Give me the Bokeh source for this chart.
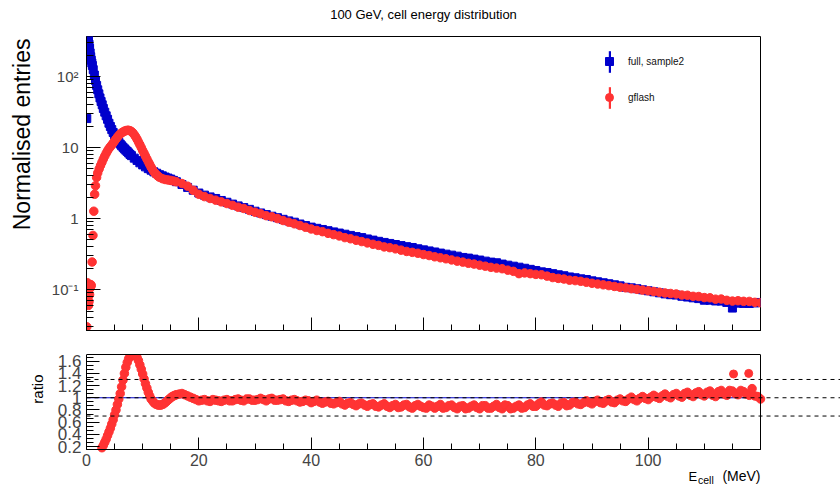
from bokeh.plotting import figure
from bokeh.models import (FixedTicker, SingleIntervalTicker, Label, Legend, LegendItem,
                          Range1d, LinearAxis, CustomJSTickFormatter)
from bokeh.layouts import column, row
from bokeh.embed import file_html
from bokeh.resources import INLINE

FONT = "Liberation Sans"
BLUE = "#0000cc"
RED = "#ff3333"

TITLE = "100 GeV, cell energy distribution"
Y_LABEL = "Normalised entries"
R_LABEL = "ratio"
NAME_FULL = "full, sample2"
NAME_GFLASH = "gflash"

# ---------------- top panel data (E_cell in MeV, normalised entries) ----------------
x_full_lo = [0.05, 0.15, 0.25, 0.35, 0.45, 0.55, 0.65, 0.75, 0.85, 0.95, 1.05, 1.2, 1.4, 1.6, 1.8,
             2.0, 2.2, 2.4, 2.6, 2.8, 3.0, 3.25, 3.5, 3.75, 4.0, 4.25, 4.5, 4.75, 5.0, 5.25, 5.5,
             5.75, 6.0, 6.25, 6.5, 6.75, 7.0, 7.25, 7.5, 7.75, 8.0, 8.5, 9.0, 9.5, 10.0, 10.5,
             11.0, 11.5, 12.0, 12.5, 13.0, 13.5, 14.0, 14.5, 15.0, 15.5]
full_lo = [25.6, 185, 300, 330, 285, 250, 215, 190, 170, 155, 143, 125, 105, 88, 75,
           65, 57, 50, 44.5, 40, 35.5, 31.5, 28, 25, 22, 19.8, 17.9, 16.3, 14.9, 13.7, 12.7,
           11.9, 11.2, 10.6, 10.1, 9.6, 9.2, 8.8, 8.4, 8.0, 7.7, 7.1, 6.6, 6.1, 5.7, 5.35,
           5.05, 4.8, 4.55, 4.35, 4.15, 4.0, 3.85, 3.72, 3.6, 3.45]

x_gflash_lo = [0.05, 0.15, 0.25, 0.35, 0.45, 0.55, 0.65, 0.75, 0.85, 1.0, 1.15, 1.3, 1.45, 1.6, 1.8,
               2.0, 2.25, 2.5, 2.75, 3.0, 3.25, 3.5, 3.75, 4.0, 4.25, 4.5, 4.75, 5.0, 5.25, 5.5,
               5.75, 6.0, 6.25, 6.5, 6.75, 7.0, 7.25, 7.5, 7.75, 8.0, 8.25, 8.5, 8.75, 9.0, 9.25,
               9.5, 9.75, 10.0, 10.25, 10.5, 10.75, 11.0, 11.25, 11.5, 11.75, 12.0, 12.25, 12.5,
               12.75, 13.0, 13.5, 14.0, 14.5, 15.0, 15.5]
gflash_lo = [0.030, 0.125, 0.078, 0.060, 0.068, 0.085, 0.105, 0.118, 0.114, 0.245, 0.58, 1.27, 2.2, 2.9, 3.8,
             4.4, 5.0, 5.6, 6.2, 6.9, 7.6, 8.3, 9.0, 9.7, 10.3, 10.9, 11.6, 12.4, 13.2, 14.0,
             14.8, 15.5, 16.1, 16.6, 17.0, 17.3, 17.5, 17.5, 17.3, 16.8, 16.1, 15.2, 14.2, 13.1, 12.0,
             11.0, 10.0, 9.1, 8.3, 7.6, 6.9, 6.3, 5.8, 5.3, 4.9, 4.55, 4.3, 4.1,
             3.95, 3.82, 3.65, 3.55, 3.5, 3.45, 3.38]

x_hi = list(range(16, 121))
full_hi = [3.31, 3.02, 2.75, 2.51, 2.29, 2.14, 2.02, 1.92, 1.80, 1.70,
           1.60, 1.51, 1.43, 1.35, 1.27, 1.20, 1.14, 1.08, 1.03, 0.977,
           0.929, 0.89, 0.839, 0.798, 0.759, 0.730, 0.703, 0.676, 0.650, 0.626,
           0.603, 0.580, 0.558, 0.54, 0.517, 0.498, 0.479, 0.462, 0.447, 0.432,
           0.417, 0.403, 0.392, 0.376, 0.363, 0.351, 0.339, 0.327, 0.316, 0.306,
           0.296, 0.284, 0.278, 0.269, 0.261, 0.252, 0.244, 0.239, 0.229, 0.221,
           0.214, 0.207, 0.200, 0.193, 0.186, 0.178, 0.174, 0.168, 0.162, 0.157,
           0.151, 0.147, 0.142, 0.139, 0.133, 0.129, 0.125, 0.121, 0.117, 0.113,
           0.108, 0.106, 0.103, 0.0995, 0.0964, 0.0933, 0.0902, 0.0871, 0.0849, 0.084,
           0.0807, 0.0787, 0.0767, 0.0748, 0.071, 0.0711, 0.0693, 0.069, 0.0661, 0.055,
           0.0646, 0.0640, 0.0638, 0.0650, 0.0660]
gflash_hi = [3.30, 3.12, 2.86, 2.50, 2.20, 2.04, 1.92, 1.82, 1.72, 1.63,
             1.54, 1.45, 1.39, 1.30, 1.23, 1.17, 1.10, 1.06, 1.00, 0.94,
             0.89, 0.845, 0.80, 0.755, 0.715, 0.68, 0.655, 0.62, 0.595, 0.57,
             0.54, 0.52, 0.495, 0.475, 0.455, 0.435, 0.42, 0.40, 0.39, 0.375,
             0.36, 0.345, 0.335, 0.325, 0.312, 0.302, 0.29, 0.281, 0.272, 0.262,
             0.252, 0.244, 0.235, 0.229, 0.221, 0.214, 0.206, 0.201, 0.197, 0.188,
             0.181, 0.168, 0.172, 0.168, 0.164, 0.162, 0.155, 0.148, 0.144, 0.141,
             0.136, 0.134, 0.131, 0.127, 0.123, 0.120, 0.117, 0.114, 0.111, 0.108,
             0.106, 0.103, 0.101, 0.0985, 0.0964, 0.0942, 0.0920, 0.0897, 0.0883, 0.0869,
             0.0839, 0.0834, 0.0805, 0.0800, 0.0773, 0.0768, 0.0735, 0.0737, 0.0707, 0.0690,
             0.0698, 0.0685, 0.0683, 0.0663, 0.0653]

# ---------------- ratio panel data (gflash / full) ----------------
x_ratio_lo = [2.75, 3.0, 3.25, 3.5, 3.75, 4.0, 4.25, 4.5, 4.75, 5.0, 5.25, 5.5, 5.75,
              6.0, 6.25, 6.5, 6.75, 7.0, 7.25, 7.5, 7.75, 8.0, 8.25, 8.5, 8.75, 9.0, 9.25,
              9.5, 9.75, 10.0, 10.25, 10.5, 10.75, 11.0, 11.25, 11.5, 11.75, 12.0, 12.25,
              12.5, 12.75, 13.0, 13.25, 13.5, 13.75, 14.0, 14.25, 14.5, 14.75, 15.0, 15.25,
              15.5, 15.75]
ratio_lo = [0.18, 0.22, 0.27, 0.32, 0.38, 0.44, 0.50, 0.57, 0.64, 0.72, 0.80, 0.89, 0.98,
            1.07, 1.18, 1.29, 1.40, 1.50, 1.58, 1.64, 1.68, 1.70, 1.71, 1.70, 1.69, 1.66, 1.61,
            1.54, 1.47, 1.39, 1.31, 1.23, 1.16, 1.09, 1.03, 0.98, 0.95, 0.92, 0.90,
            0.89, 0.88, 0.88, 0.88, 0.89, 0.90, 0.92, 0.94, 0.96, 0.98, 1.00, 1.02,
            1.03, 1.04]
ratio_hi = [1.05, 1.07, 1.03, 0.99, 0.95, 0.97, 0.94, 0.96, 0.94, 0.97,
            0.95, 0.98, 0.95, 0.98, 0.96, 0.99, 0.95, 0.99, 0.96, 0.98,
            0.94, 0.97, 0.93, 0.96, 0.92, 0.96, 0.91, 0.94, 0.90, 0.94,
            0.88, 0.92, 0.87, 0.91, 0.86, 0.90, 0.85, 0.90, 0.84, 0.89,
            0.85, 0.89, 0.83, 0.89, 0.84, 0.88, 0.83, 0.89, 0.84, 0.88,
            0.82, 0.87, 0.83, 0.88, 0.82, 0.87, 0.83, 0.89, 0.82, 0.87,
            0.83, 0.88, 0.84, 0.90, 0.86, 0.93, 0.87, 0.91, 0.86, 0.92,
            0.88, 0.93, 0.89, 0.95, 0.90, 0.96, 0.91, 0.97, 0.92, 0.98,
            0.94, 1.01, 0.95, 1.02, 0.97, 1.04, 0.99, 1.06, 1.00, 1.07,
            1.01, 1.09, 1.02, 1.10, 1.03, 1.11, 1.02, 1.12, 1.04, 1.11,
            1.05, 1.10, 1.04, 1.03, 0.98]
x_hi_half = [v + 0.5 for v in range(16, 120)]
ratio_hi_half = [1.06, 1.05, 1.01, 0.97, 0.96, 0.95, 0.97, 0.95, 0.96, 0.95,
                 0.97, 0.96, 0.98, 0.96, 0.97, 0.97, 0.98, 0.96, 0.97, 0.95,
                 0.96, 0.95, 0.94, 0.95, 0.94, 0.93, 0.93, 0.91, 0.92, 0.90,
                 0.91, 0.89, 0.90, 0.88, 0.89, 0.86, 0.88, 0.86, 0.87, 0.84,
                 0.88, 0.85, 0.87, 0.86, 0.83, 0.86, 0.86, 0.83, 0.87, 0.84,
                 0.86, 0.82, 0.86, 0.84, 0.87, 0.83, 0.86, 0.84, 0.88, 0.82,
                 0.86, 0.83, 0.88, 0.86, 0.90, 0.88, 0.90, 0.88, 0.91, 0.87,
                 0.92, 0.90, 0.92, 0.92, 0.94, 0.92, 0.95, 0.93, 0.96, 0.95,
                 0.98, 0.97, 0.99, 0.99, 1.01, 1.01, 1.03, 1.02, 1.05, 1.03,
                 1.07, 1.04, 1.08, 1.05, 1.09, 1.04, 1.10, 1.06, 1.12, 1.07,
                 1.12, 1.06, 1.15, 1.02]
x_ratio_out = [115.2, 117.9]
ratio_out = [1.39, 1.40]
ratio_out_err = [0.035, 0.04]
ref_lines = [0.7, 1.0, 1.3]
unity_x = [0, 120]
unity_y = [1.0, 1.0]

X_MAX = 120
FRAME_W = 674
PX_PER_UNIT = FRAME_W / X_MAX
R_LO, R_HI = 0.151, 1.71
AXIS_X = 86                       # page x of E = 0

x_full = x_full_lo + x_hi
full = full_lo + full_hi
x_gflash = x_gflash_lo + x_hi
gflash = gflash_lo + gflash_hi
x_ratio = x_ratio_lo + x_hi + x_hi_half
ratio = ratio_lo + ratio_hi + ratio_hi_half

blank = CustomJSTickFormatter(code="return ''")

# page layout (pixels): title strip 0-35, top row 35-334, ratio row 334-486
LAB_W = 46
TITLE_H = 35
TOP_B, TOP_FRAME_H, TOP_BOT = 1, 294, 4
TOP_H = TOP_B + TOP_FRAME_H + TOP_BOT
ROW2_Y = TITLE_H + TOP_H
R_TOP = 20
R_BOX_H = 95                      # height of the ratio box itself
R_FRAME_H = 486 - ROW2_Y - R_TOP  # frame continues below the box to hold the axis labels
R_PX_PER_UNIT = R_BOX_H / (R_HI - R_LO)
R_BOTTOM = R_HI - R_FRAME_H / R_PX_PER_UNIT
R_FRAME_W = 840 - LAB_W
R_X0 = -(AXIS_X - LAB_W) / PX_PER_UNIT
R_X1 = R_X0 + R_FRAME_W / PX_PER_UNIT


def text_strip(w, h, xr, yr):
    f = figure(frame_width=w, frame_height=h, x_range=Range1d(*xr), y_range=Range1d(*yr),
               x_axis_location=None, y_axis_location=None, output_backend="svg",
               toolbar_location=None, min_border=0)
    f.title = None
    f.outline_line_color = None
    f.xgrid.visible = False
    f.ygrid.visible = False
    f.background_fill_color = "white"
    f.border_fill_color = "white"
    return f


# ---------------- title strip ----------------
t = text_strip(840, TITLE_H, (0, 840), (TITLE_H, 0))
t.add_layout(Label(x=423, y=14, text=TITLE, text_align="center", text_baseline="middle",
                   text_font=FONT, text_font_size="13px", text_color="black"))

# ---------------- top panel ----------------
p = figure(frame_width=FRAME_W, frame_height=TOP_FRAME_H, x_range=Range1d(0, X_MAX),
           y_range=Range1d(0.0266, 366), y_axis_type="log",
           output_backend="svg", toolbar_location=None,
           min_border_left=AXIS_X - LAB_W, min_border_right=840 - AXIS_X - FRAME_W,
           min_border_top=TOP_B, min_border_bottom=TOP_BOT)
p.title = None
p.background_fill_color = "white"
p.border_fill_color = "white"
p.outline_line_color = "black"
p.xgrid.visible = False
p.ygrid.visible = False

xa = p.xaxis[0]
xa.ticker = SingleIntervalTicker(interval=20, num_minor_ticks=4)
xa.formatter = blank
xa.major_tick_in = 13
xa.major_tick_out = 0
xa.minor_tick_in = 6
xa.minor_tick_out = 0
xa.major_label_standoff = 0
xa.major_label_text_font_size = "1px"
xa.axis_line_color = "black"

ya = p.yaxis[0]
ya.ticker = FixedTicker(ticks=[0.1, 1, 10, 100],
                        minor_ticks=[0.03, 0.04, 0.05, 0.06, 0.07, 0.08, 0.09,
                                     0.2, 0.3, 0.4, 0.5, 0.6, 0.7, 0.8, 0.9,
                                     2, 3, 4, 5, 6, 7, 8, 9,
                                     20, 30, 40, 50, 60, 70, 80, 90, 200, 300])
ya.major_label_overrides = {0.1: "10\u207b\u00b9", 1: "1", 10: "10", 100: "10\u00b2"}
ya.major_tick_in = 14
ya.major_tick_out = 0
ya.minor_tick_in = 7
ya.minor_tick_out = 0
ya.major_label_standoff = 8
ya.major_label_text_font = FONT
ya.major_label_text_font_size = "15px"
ya.axis_line_color = "black"

r_full = p.scatter(x_full, full, marker="square", size=8, color=BLUE)
r_gflash = p.scatter(x_gflash, gflash, marker="circle", size=8.5, color=RED)

# zero-size bars carrying the series, used only for the error-bar strokes of the legend keys
bar_full = p.vbar(x=x_full, bottom=full, top=full, width=0, fill_color=BLUE, line_color=None)
bar_gflash = p.vbar(x=x_gflash, bottom=gflash, top=gflash, width=0, fill_color=RED, line_color=None)
leg_bars = Legend(items=[LegendItem(label=" ", renderers=[bar_full]),
                         LegendItem(label=" ", renderers=[bar_gflash])],
                  location=(521.5, 219.5), glyph_width=3, glyph_height=27, label_height=27,
                  spacing=9, padding=0, margin=0, border_line_alpha=0,
                  background_fill_alpha=0, label_text_font_size="8px")
leg = Legend(items=[LegendItem(label=NAME_FULL, renderers=[r_full]),
                    LegendItem(label=NAME_GFLASH, renderers=[r_gflash])],
             location=(513, 223), glyph_width=20, glyph_height=20, label_height=20,
             spacing=16, padding=0, margin=0, label_standoff=9, border_line_alpha=0,
             background_fill_alpha=0, label_text_font=FONT, label_text_font_size="10px",
             label_text_color="#111111")
p.add_layout(leg_bars)
p.add_layout(leg)

lab_top = text_strip(LAB_W, TOP_H, (0, LAB_W), (ROW2_Y, TITLE_H))
lab_top.add_layout(Label(x=21, y=37, text=Y_LABEL, angle=1.5708, text_align="right",
                         text_baseline="middle", text_font=FONT, text_font_size="23px",
                         text_color="black"))

# ---------------- ratio panel ----------------
r = figure(frame_width=R_FRAME_W, frame_height=R_FRAME_H,
           x_range=Range1d(R_X0, R_X1), y_range=Range1d(R_BOTTOM, R_HI),
           output_backend="svg", toolbar_location=None,
           min_border_left=0, min_border_right=0, min_border_top=R_TOP, min_border_bottom=0)
r.title = None
r.background_fill_color = "white"
r.border_fill_color = "white"
r.outline_line_color = None
r.xgrid.visible = False
r.ygrid.visible = False

rx = r.xaxis[0]
rx.fixed_location = R_LO
rx.bounds = (0, X_MAX)
rx.ticker = SingleIntervalTicker(interval=20, num_minor_ticks=4)
rx.major_label_overrides = {120: ""}
rx.major_tick_in = 12
rx.major_tick_out = 0
rx.minor_tick_in = 6
rx.minor_tick_out = 0
rx.major_label_standoff = 4
rx.major_label_text_font = FONT
rx.major_label_text_font_size = "16px"
rx.axis_line_color = "black"

ry = r.yaxis[0]
ry.fixed_location = 0
ry.bounds = (R_LO, R_HI)
ry.ticker = SingleIntervalTicker(interval=0.2, num_minor_ticks=3)
ry.major_label_overrides = {1: "1"}
ry.major_tick_in = 13
ry.major_tick_out = 0
ry.minor_tick_in = 7
ry.minor_tick_out = 0
ry.major_label_standoff = 5
ry.major_label_text_font = FONT
ry.major_label_text_font_size = "17px"
ry.axis_line_color = "black"

top_edge = LinearAxis(bounds=(0, X_MAX), ticker=FixedTicker(ticks=[]), formatter=blank,
                      major_tick_in=0, major_tick_out=0, minor_tick_in=0, minor_tick_out=0,
                      major_label_standoff=0, major_label_text_font_size="1px",
                      axis_line_color="black")
r.add_layout(top_edge, "above")
right_edge = LinearAxis(fixed_location=X_MAX, bounds=(R_LO, R_HI), ticker=FixedTicker(ticks=[]),
                        formatter=blank, major_tick_in=0, major_tick_out=0, minor_tick_in=0,
                        minor_tick_out=0, major_label_standoff=0,
                        major_label_text_font_size="1px", axis_line_color="black")
r.add_layout(right_edge, "right")

r.line(unity_x, unity_y, line_color=BLUE, line_width=1)
r.scatter(x_ratio, ratio, marker="circle", size=8.5, color=RED)
r.segment(x0=x_ratio_out, x1=x_ratio_out,
          y0=[v - e for v, e in zip(ratio_out, ratio_out_err)],
          y1=[v + e for v, e in zip(ratio_out, ratio_out_err)], line_color=RED, line_width=1)
r.scatter(x_ratio_out, ratio_out, marker="circle", size=8, color=RED)

# dashed reference lines, from the y axis out to the right edge of the canvas
r.segment(x0=[0] * len(ref_lines), x1=[R_X1] * len(ref_lines), y0=ref_lines, y1=ref_lines,
          line_color="black", line_dash="4 4", line_width=1)


def ry_at(page_y):
    return R_HI - (page_y - (ROW2_Y + R_TOP)) / R_PX_PER_UNIT


def rx_at(page_x):
    return (page_x - AXIS_X) / PX_PER_UNIT


r.add_layout(Label(x=rx_at(688), y=ry_at(475.5), text="E", text_align="left",
                   text_baseline="middle", text_font=FONT, text_font_size="13px",
                   text_color="black"))
r.add_layout(Label(x=rx_at(697.5), y=ry_at(479.8), text="cell", text_align="left",
                   text_baseline="middle", text_font=FONT, text_font_size="10.5px",
                   text_color="black"))
r.add_layout(Label(x=X_MAX, y=ry_at(475.3), text="(MeV)", text_align="right",
                   text_baseline="middle", text_font=FONT, text_font_size="14px",
                   text_color="black"))

lab_ratio = text_strip(LAB_W, R_TOP + R_FRAME_H, (0, LAB_W), (486, ROW2_Y))
lab_ratio.add_layout(Label(x=37, y=ROW2_Y + R_TOP, text=R_LABEL, angle=1.5708, text_align="right",
                           text_baseline="middle", text_font=FONT, text_font_size="15px",
                           text_color="black"))

layout = column(t, row(lab_top, p), row(lab_ratio, r))
open("out.html", "w").write(file_html(layout, INLINE))
